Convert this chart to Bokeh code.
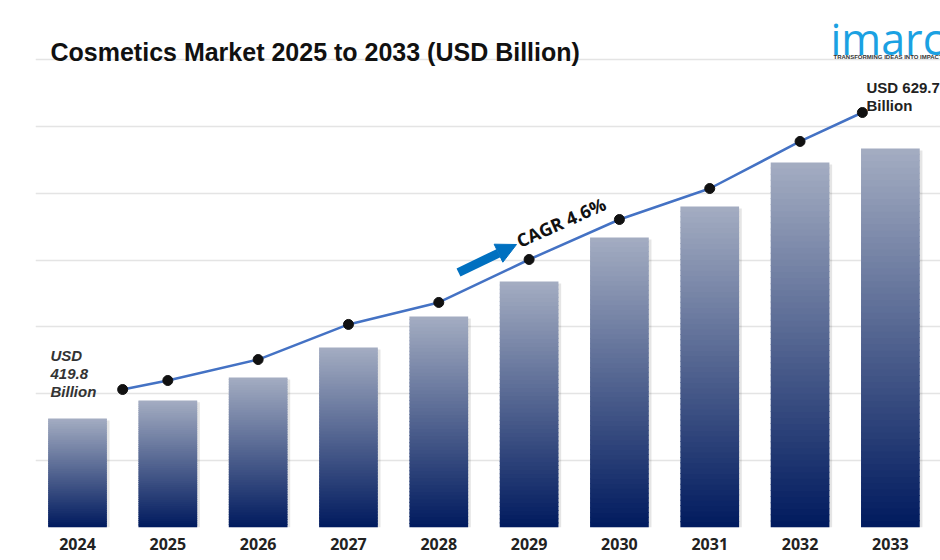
from bokeh.plotting import figure
from bokeh.models import Range1d, FixedTicker, Label, Arrow, NormalHead, ColumnDataSource
from bokeh.embed import file_html
from bokeh.resources import INLINE

# ---------------- data ----------------
years = [2024, 2025, 2026, 2027, 2028, 2029, 2030, 2031, 2032, 2033]
market_values = [419.8, 433.8, 451.6, 475.0, 499.0, 526.3, 560.5, 584.6, 618.8, 629.7]
trend_values = [442.3, 449.3, 465.6, 492.9, 510.0, 543.4, 574.5, 598.6, 635.2, 657.7]
tick_labels = [str(y) for y in years]
title_text = "Cosmetics Market 2025 to 2033 (USD Billion)"
cagr_text = "CAGR  4.6%"
start_label = ["USD", f"{market_values[0]}", "Billion"]
end_label = ["USD " + f"{market_values[-1]}", "Billion"]

# ---------------- layout / style constants ----------------
W, H = 940, 560
BORDER_L, BORDER_B = 35, 33
Y_BASE = 335.0          # value at the baseline
Y_STEP = 52.0           # grid spacing in value units
PX_PER_UNIT = 1.286
PX_PER_YEAR = 90.32
X_START = 2023.535
frame_w = W - BORDER_L
frame_h = H - BORDER_B
x_end = X_START + frame_w / PX_PER_YEAR
y_end = Y_BASE + frame_h / PX_PER_UNIT

# annotation placement helpers (reference pixel -> data)
def ax(X):
    return X_START + (X - BORDER_L) / PX_PER_YEAR

def ay(Y):
    return Y_BASE + (frame_h - Y) / PX_PER_UNIT

p = figure(width=W, height=H, output_backend="svg", toolbar_location=None,
           x_range=Range1d(X_START, x_end), y_range=Range1d(Y_BASE, y_end),
           min_border_left=BORDER_L, min_border_right=0, min_border_top=0,
           min_border_bottom=BORDER_B)
p.outline_line_color = None
p.background_fill_color = "white"
p.border_fill_color = "white"
p.xgrid.visible = False
p.yaxis.visible = False
p.ygrid.ticker = FixedTicker(ticks=[Y_BASE + Y_STEP * k for k in range(8)])
p.ygrid.grid_line_color = "#e4e4e4"
p.ygrid.grid_line_width = 1.5

xa = p.xaxis[0]
xa.ticker = FixedTicker(ticks=years)
xa.major_label_overrides = {y: l for y, l in zip(years, tick_labels)}
xa.axis_line_color = None
xa.major_tick_line_color = None
xa.minor_tick_line_color = None
xa.major_tick_out = 0
xa.major_tick_in = 0
xa.major_label_standoff = 10
xa.major_label_text_font = "Open Sans"
xa.major_label_text_font_style = "bold"
xa.major_label_text_font_size = "16px"
xa.major_label_text_color = "#222222"

# ---------------- gradient bars ----------------
BAR_W = 0.65
N = 60
OVERLAP = 0.8           # value units, hides seams between slices
top_rgb = (164, 173, 194)
bot_rgb = (0, 26, 94)
xs, bots, tops, cols = [], [], [], []
for yr, v in zip(years, market_values):
    h = v - Y_BASE
    for j in range(N):
        t = (j + 0.5) / N
        c = tuple(int(round(b + (a - b) * t)) for a, b in zip(top_rgb, bot_rgb))
        xs.append(yr)
        bots.append(Y_BASE + h * j / N)
        tops.append(min(v, Y_BASE + h * (j + 1) / N + OVERLAP))
        cols.append("#%02x%02x%02x" % c)

# soft shadow
p.vbar(x=[y + 0.03 for y in years], width=BAR_W, bottom=Y_BASE, top=[v - 1.5 for v in market_values],
       fill_color="#000000", fill_alpha=0.10, line_color=None)
src = ColumnDataSource(dict(x=xs, bottom=bots, top=tops, color=cols))
p.vbar(x="x", width=BAR_W, bottom="bottom", top="top", source=src,
       fill_color="color", line_color=None)

# ---------------- trend line ----------------
trend_x = [float(y) for y in years]
trend_x[0] += 0.50
trend_x[-1] -= 0.31
p.line(trend_x, trend_values, line_color="#4472c4", line_width=2.5)
p.scatter(trend_x, trend_values, size=10, fill_color="#111111", line_color="#111111")

# ---------------- annotations ----------------
p.add_layout(Label(x=ax(50), y=ay(51), text=title_text, text_font="Liberation Sans",
                   text_font_style="bold", text_font_size="25px", text_color="#111111",
                   text_baseline="alphabetic"))

for txt, Y in zip(start_label, [355, 373, 390.5]):
    p.add_layout(Label(x=ax(50), y=ay(Y), text=txt, text_font="Liberation Sans",
                       text_font_style="bold italic", text_font_size="15px",
                       text_color="#333333", text_baseline="alphabetic"))

for txt, Y in zip(end_label, [87, 105]):
    p.add_layout(Label(x=ax(866), y=ay(Y), text=txt, text_font="Liberation Sans",
                       text_font_style="bold", text_font_size="15px",
                       text_color="#222222", text_baseline="alphabetic"))

p.add_layout(Label(x=ax(517), y=ay(241), text=cagr_text, text_font="Open Sans",
                   text_font_style="bold", text_font_size="18px", text_color="#111111",
                   angle=24, angle_units="deg",
                   text_baseline="alphabetic", text_align="left"))

p.add_layout(Arrow(x_start=ax(458), y_start=ay(272), x_end=ax(516), y_end=ay(244),
                   line_color="#0070c0", line_width=9,
                   end=NormalHead(size=20, fill_color="#0070c0", line_color="#0070c0")))

# logo
p.add_layout(Label(x=ax(830), y=ay(38), text="imarc", text_font="Open Sans",
                   text_font_size="43px", text_color="#1ba1e2", text_baseline="alphabetic"))
p.add_layout(Label(x=ax(833), y=ay(56), text="TRANSFORMING IDEAS INTO IMPACT",
                   text_font="Liberation Sans", text_font_style="bold", text_font_size="6px",
                   text_color="#333333", text_baseline="alphabetic"))

open("out.html", "w").write(file_html(p, INLINE))
